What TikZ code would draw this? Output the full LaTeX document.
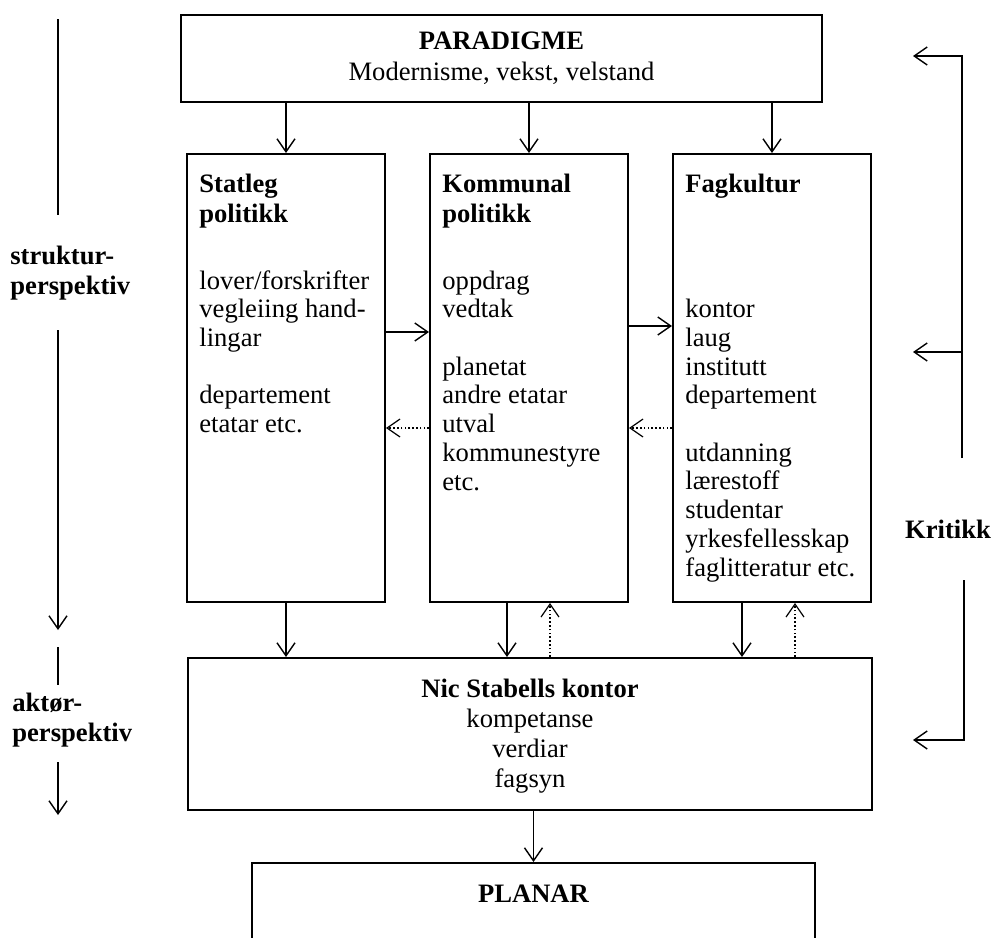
\documentclass[tikz,border=0pt]{standalone}
\usepackage{fontspec}
\setmainfont{Liberation Serif}
\usetikzlibrary{arrows.meta}
\usetikzlibrary{positioning}

\begin{document}
\begin{tikzpicture}[x=0.5pt,y=-0.5pt]
        \tikzstyle{box}=[draw,line width=1pt,inner sep=0pt]
        \tikzstyle{col}=[box,minimum width=99pt,minimum height=224pt]
        \tikzstyle{edge}=[draw,line width=0.7pt,-{Straight Barb[length=6.5pt,width=9pt]}]
        \tikzstyle{back}=[edge,line width=0.6pt,dash pattern=on 0.8pt off 1.1pt]
        \tikzstyle{line}=[draw,line width=0.7pt]
        \tikzstyle{txt}=[inner sep=0pt,align=left,font=\fontsize{13.3}{14.35}\selectfont]
        \tikzstyle{head}=[inner sep=0pt,align=left,font=\fontsize{13.3}{15}\selectfont\bfseries]
        \useasboundingbox (0,0) rectangle (998,938);
        % top
        \node [box,minimum width=320.5pt,minimum height=43.5pt] (para) at (501.5,58.5) {};
        \node [head,anchor=base] (paratitle) at (501.5,49) {PARADIGME};
        \node [txt,anchor=base] (paratext) at (501.5,80) {Modernisme, vekst, velstand};
        % the three columns (multi-line texts sit on their last line)
        \node [col] (stat) at (286,378) {};
        \node [col] (komm) at (529,378) {};
        \node [col] (fag) at (772,378) {};
        \node [head,anchor=base west] (stathead) at ([xshift=6.5pt,yshift=-34.5pt]stat.north west) {Statleg\\politikk};
        \node [head,anchor=base west] (kommhead) at ([xshift=6.5pt,yshift=-34.5pt]komm.north west) {Kommunal\\politikk};
        \node [head,anchor=base west] (faghead) at ([xshift=6.5pt,yshift=-19.5pt]fag.north west) {Fagkultur};
        \node [txt,anchor=base west] (stattext) at ([xshift=6.5pt,yshift=-139.75pt]stat.north west)
          {lover/forskrifter\\vegleiing hand-\\lingar\\[14.35pt]departement\\etatar etc.};
        \node [txt,anchor=base west] (kommtext) at ([xshift=6.5pt,yshift=-168.5pt]komm.north west)
          {oppdrag\\vedtak\\[14.35pt]planetat\\andre etatar\\utval\\kommunestyre\\etc.};
        \node [txt,anchor=base west] (fagtext) at ([xshift=6.5pt,yshift=-211.5pt]fag.north west)
          {kontor\\laug\\institutt\\departement\\[14.35pt]utdanning\\lærestoff\\studentar\\yrkesfellesskap\\faglitteratur etc.};
        % office and plans
        \node [box,minimum width=342pt,minimum height=76pt] (nic) at (530,734) {};
        \node [txt,align=center,anchor=base,font=\fontsize{13.3}{15}\selectfont] (nictext) at (530,787)
          {\bfseries Nic Stabells kontor\\kompetanse\\verdiar\\fagsyn};
        \node [box,minimum width=281.5pt,minimum height=60pt] (plan) at (533.5,923) {};
        \node [head,anchor=base] (plantext) at (533.5,902) {PLANAR};
        % side labels
        \node [head,anchor=base west] (struktur) at (10,294) {struktur-\\perspektiv};
        \node [head,anchor=base west] (aktor) at (12,741) {aktør-\\perspektiv};
        \node [head,anchor=base] (kritikk) at (948,538) {Kritikk};
        \coordinate (s1) at (58,19);
        \coordinate (s2) at (58,215);
        \coordinate (s3) at (58,330);
        \coordinate (s4) at (58,630);
        \coordinate (a1) at (58,647);
        \coordinate (a2) at (58,685);
        \coordinate (a3) at (58,762);
        \coordinate (a4) at (58,815);
        \coordinate (k1) at (962,458);
        \coordinate (k2) at (962,56);
        \coordinate (k3) at (913,56);
        \coordinate (k4) at (913,352);
        \coordinate (k5) at (964,580);
        \coordinate (k6) at (964,740);
        \coordinate (k7) at (913,740);
        % arrows
        \draw[edge] (para.south -| stat.north) -- (stat.north);
        \draw[edge] (para.south -| komm.north) -- (komm.north);
        \draw[edge] (para.south -| fag.north) -- (fag.north);
        \draw[edge] ([yshift=23pt]stat.east) -- ([yshift=23pt]komm.west);
        \draw[edge] ([yshift=26pt]komm.east) -- ([yshift=26pt]fag.west);
        \draw[back] ([yshift=-25pt]komm.west) -- ([yshift=-25pt]stat.east);
        \draw[back] ([yshift=-25pt]fag.west) -- ([yshift=-25pt]komm.east);
        \draw[edge] (stat.south) -- (stat.south |- nic.north);
        \draw[edge] ([xshift=-11pt]komm.south) -- ([xshift=-11pt]komm.south |- nic.north);
        \draw[back] ([xshift=10.5pt]komm.south |- nic.north) -- ([xshift=10.5pt]komm.south);
        \draw[edge] ([xshift=-15pt]fag.south) -- ([xshift=-15pt]fag.south |- nic.north);
        \draw[back] ([xshift=11.5pt]fag.south |- nic.north) -- ([xshift=11.5pt]fag.south);
        \draw[edge] (nic.south -| plan.north) -- (plan.north);
        \draw[line] (s1) -- (s2);
        \draw[edge] (s3) -- (s4);
        \draw[line] (a1) -- (a2);
        \draw[edge] (a3) -- (a4);
        \draw[edge] (k1) -- (k2) -- (k3);
        \draw[edge] (k1 |- k4) -- (k4);
        \draw[edge] (k5) -- (k6) -- (k7);
\end{tikzpicture}
\end{document}
